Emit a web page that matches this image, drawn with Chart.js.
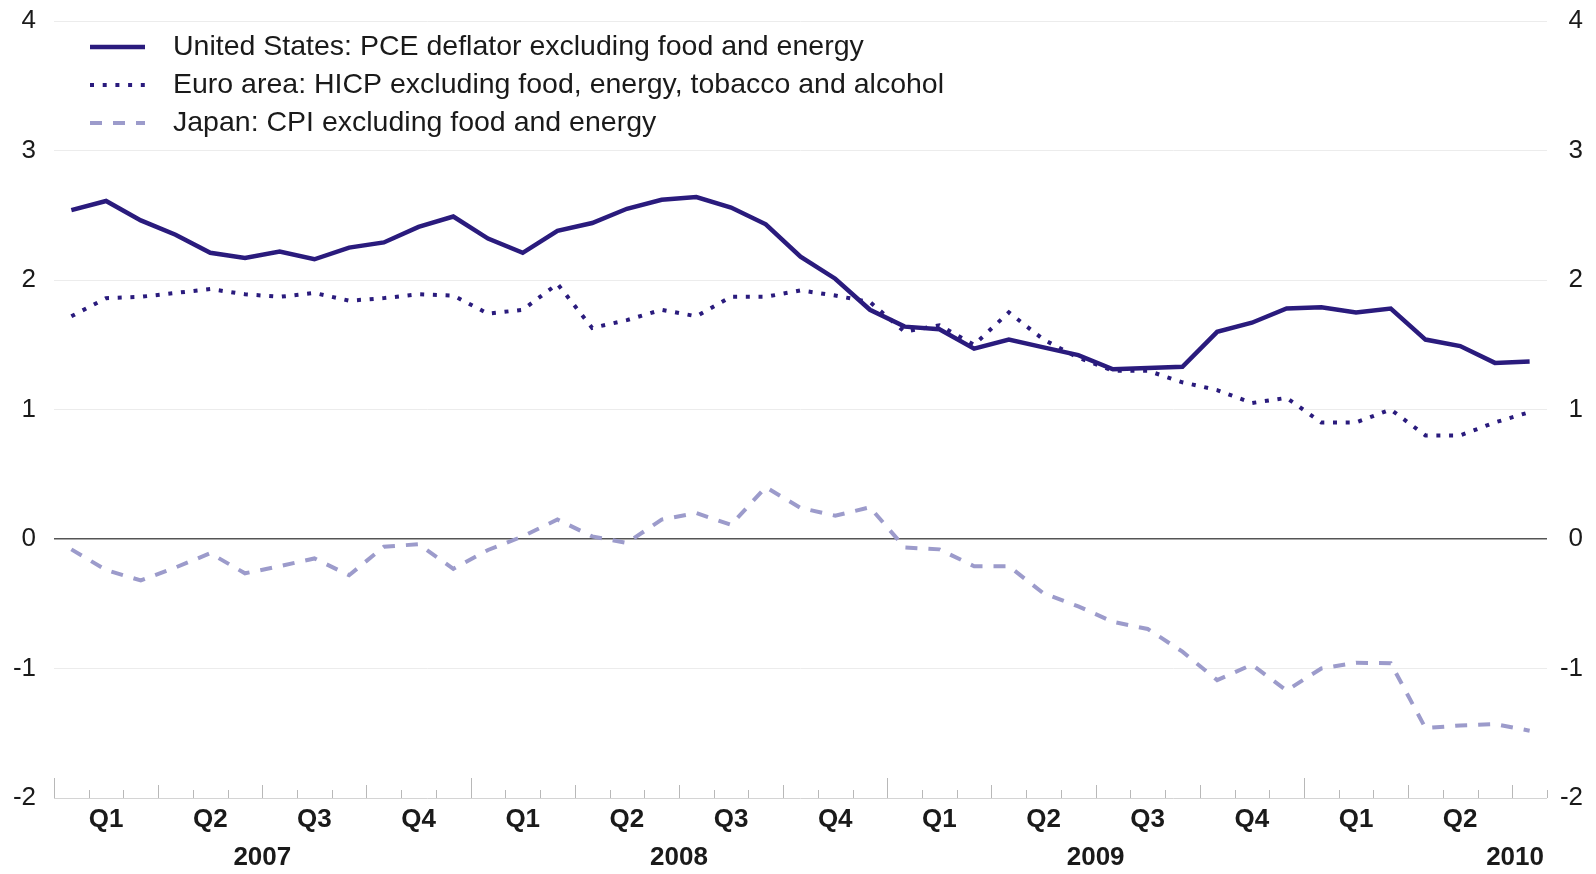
<!DOCTYPE html>
<html>
<head>
<meta charset="utf-8">
<script src="https://cdn.jsdelivr.net/npm/chart.js@4.4.0/dist/chart.umd.min.js"></script>
<style>
  body { margin: 0; background: #fff; }
</style>
</head>
<body>
<canvas id="myChart" width="1596" height="874"></canvas>
<script>
// monthly, Jan 2007 - Jul 2010
const months = [
    "2007-01", "2007-02", "2007-03", "2007-04", "2007-05", "2007-06", "2007-07", "2007-08", "2007-09", "2007-10", "2007-11", "2007-12",
    "2008-01", "2008-02", "2008-03", "2008-04", "2008-05", "2008-06", "2008-07", "2008-08", "2008-09", "2008-10", "2008-11", "2008-12",
    "2009-01", "2009-02", "2009-03", "2009-04", "2009-05", "2009-06", "2009-07", "2009-08", "2009-09", "2009-10", "2009-11", "2009-12",
    "2010-01", "2010-02", "2010-03", "2010-04", "2010-05", "2010-06", "2010-07"
];
const years = ["2007", "2008", "2009", "2010"];
const quarters = ["Q1", "Q2", "Q3", "Q4"];

const usPce = [2.54, 2.61, 2.46, 2.35, 2.21, 2.17, 2.22, 2.16, 2.25, 2.29, 2.41, 2.49,
    2.32, 2.21, 2.38, 2.44, 2.55, 2.62, 2.64, 2.56, 2.43, 2.18, 2.01, 1.77,
    1.64, 1.62, 1.47, 1.54, 1.48, 1.42, 1.31, 1.32, 1.33, 1.60, 1.67, 1.78,
    1.79, 1.75, 1.78, 1.54, 1.49, 1.36, 1.37];
const euroHicp = [1.72, 1.86, 1.87, 1.90, 1.93, 1.89, 1.87, 1.90, 1.84, 1.86, 1.89, 1.88,
    1.74, 1.77, 1.97, 1.63, 1.69, 1.77, 1.72, 1.87, 1.87, 1.92, 1.88, 1.83,
    1.60, 1.65, 1.50, 1.75, 1.54, 1.40, 1.30, 1.30, 1.21, 1.15, 1.05, 1.09,
    0.90, 0.90, 1.00, 0.80, 0.80, 0.90, 0.98];
const japanCpi = [-0.08, -0.24, -0.32, -0.22, -0.11, -0.265, -0.21, -0.15, -0.28, -0.06, -0.04, -0.23,
    -0.085, 0.02, 0.15, 0.02, -0.03, 0.15, 0.20, 0.11, 0.40, 0.24, 0.18, 0.245,
    -0.065, -0.08, -0.21, -0.21, -0.42, -0.52, -0.64, -0.695, -0.87, -1.09, -0.97, -1.17,
    -1.00, -0.955, -0.96, -1.46, -1.44, -1.43, -1.48];

const yMin = -2;
const yMax = 4;

const navy = "#2a1b7d";
const lavender = "#9c9bcb";
const textColor = "#1a1a1a";
const fontFamily = "'Liberation Sans', Arial, Helvetica, sans-serif";

// month / quarter / year tick marks on the bottom axis + year labels
const axisMarks = {
    id: "axisMarks",
    afterDraw(chart) {
        const ctx = chart.ctx;
        const xs = chart.scales.x;
        const area = chart.chartArea;
        const w = xs.getPixelForValue(1) - xs.getPixelForValue(0);
        ctx.save();
        ctx.strokeStyle = "#b8b8b8";
        ctx.lineWidth = 1;
        for (let i = 0; i <= months.length; i++) {
            let x = Math.round(xs.getPixelForValue(0) + (i - 0.5) * w) + 0.5;
            let h = i % 12 == 0 ? 20 : (i % 3 == 0 ? 13 : 8);
            ctx.beginPath();
            ctx.moveTo(x, area.bottom);
            ctx.lineTo(x, area.bottom - h);
            ctx.stroke();
        }
        // years: centred under full years, a partial last year sits at the right end
        ctx.fillStyle = textColor;
        ctx.font = "bold 26px " + fontFamily;
        ctx.textBaseline = "middle";
        for (let k = 0; k < years.length; k++) {
            let first = months.findIndex(m => m.startsWith(years[k]));
            let last = first;
            while (last + 1 < months.length && months[last + 1].startsWith(years[k])) last++;
            if (last - first + 1 < 12) {
                ctx.textAlign = "right";
                ctx.fillText(years[k], area.right - 3, area.bottom + 60);
            } else {
                ctx.textAlign = "center";
                ctx.fillText(years[k], (xs.getPixelForValue(first) + xs.getPixelForValue(last)) / 2, area.bottom + 60);
            }
        }
        ctx.restore();
    }
};

// legend drawn inside the plot, top-left
const insideLegend = {
    id: "insideLegend",
    afterDraw(chart) {
        const ctx = chart.ctx;
        const area = chart.chartArea;
        ctx.save();
        chart.data.datasets.forEach((ds, k) => {
            let y = Math.round(area.top + 26 + k * 38);
            ctx.strokeStyle = ds.borderColor;
            ctx.lineWidth = ds.borderWidth;
            ctx.lineCap = "butt";
            ctx.setLineDash(ds.borderDash || []);
            ctx.beginPath();
            ctx.moveTo(area.left + 36, y);
            ctx.lineTo(area.left + 91, y);
            ctx.stroke();
            ctx.setLineDash([]);
            ctx.fillStyle = textColor;
            ctx.font = "28.5px " + fontFamily;
            ctx.textAlign = "left";
            ctx.textBaseline = "middle";
            ctx.fillText(ds.label, area.left + 119, y);
        });
        ctx.restore();
    }
};

const data = {
    labels: months,
    datasets: [{
            label: "United States: PCE deflator excluding food and energy",
            data: usPce,
            borderColor: navy,
            borderWidth: 4.5,
            pointRadius: 0,
            tension: 0,
        },
        {
            label: "Euro area: HICP excluding food, energy, tobacco and alcohol",
            data: euroHicp,
            borderColor: navy,
            borderWidth: 4,
            borderDash: [4, 8.7],
            borderCapStyle: "butt",
            pointRadius: 0,
            tension: 0,
        },
        {
            label: "Japan: CPI excluding food and energy",
            data: japanCpi,
            borderColor: lavender,
            borderWidth: 4,
            borderDash: [12, 11],
            borderCapStyle: "butt",
            pointRadius: 0,
            tension: 0,
        },
    ],
};

// let the layout padding alone decide the top of the plot
function fixWidth(w) {
    return (scale) => {
        scale.width = w;
        scale.paddingTop = 0;
        scale.paddingBottom = 0;
    };
}

const config = {
    type: "line",
    data,
    options: {
        responsive: false,
        animation: false,
        devicePixelRatio: 1,
        layout: {
            padding: { top: 21, right: 13, bottom: 0, left: 0 },
        },
        plugins: {
            legend: { display: false },
            tooltip: { enabled: false },
        },
        scales: {
            x: {
                type: "category",
                offset: true,
                grid: { display: false, drawTicks: false },
                border: { display: false },
                ticks: {
                    autoSkip: false,
                    maxRotation: 0,
                    minRotation: 0,
                    padding: 6,
                    color: textColor,
                    font: { family: fontFamily, size: 26, weight: "bold" },
                    callback: function(value, index) {
                        let m = parseInt(months[index].slice(5), 10) - 1;
                        return m % 3 == 1 ? quarters[Math.floor(m / 3)] : "";
                    },
                },
                afterFit: (scale) => { scale.height = 76; },
            },
            y: {
                position: "left",
                min: yMin,
                max: yMax,
                ticks: {
                    stepSize: 1,
                    padding: 18,
                    color: textColor,
                    font: { family: fontFamily, size: 26 },
                },
                grid: {
                    drawTicks: false,
                    color: (c) => c.tick.value == 0 ? "#555555" : (c.tick.value == yMin ? "#d4d4d4" : "#ececec"),
                    lineWidth: (c) => c.tick.value == 0 ? 1.6 : 1,
                },
                border: { display: false },
                afterFit: fixWidth(54),
            },
            y2: {
                position: "right",
                min: yMin,
                max: yMax,
                ticks: {
                    stepSize: 1,
                    crossAlign: "far",
                    color: textColor,
                    font: { family: fontFamily, size: 26 },
                },
                grid: { display: false, drawTicks: false },
                border: { display: false },
                afterFit: fixWidth(36),
            },
        },
    },
    plugins: [axisMarks, insideLegend],
};

const myChart = new Chart(document.getElementById("myChart"), config);
</script>
</body>
</html>
